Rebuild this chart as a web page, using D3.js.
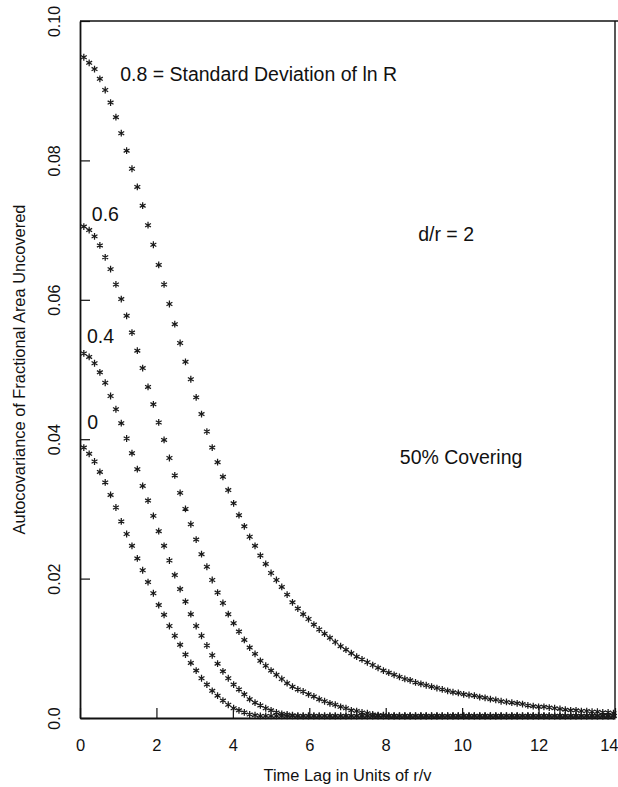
<!DOCTYPE html>
<html>
<head>
<meta charset="utf-8">
<script src="https://cdn.jsdelivr.net/npm/d3@7"></script>
<style>
  body { margin: 0; background: #fff; }
  svg { display: block; background: #fff; font-family: "Liberation Sans", Arial, Helvetica, sans-serif; }
  .axis path, .axis line { stroke: #111; }
  .chart_label { fill: #111; }
  .star { fill: none; stroke: #1a1a1a; stroke-width: 1.25; }
</style>
</head>
<body>
<svg id="chart" width="618" height="787"></svg>
<script>
// time lag in units of r/v (one asterisk per lag)
var lags = [
  0.10, 0.24, 0.38, 0.52, 0.66, 0.80, 0.94, 1.08, 1.22, 1.36,
  1.50, 1.64, 1.78, 1.92, 2.06, 2.20, 2.34, 2.48, 2.62, 2.76,
  2.90, 3.04, 3.18, 3.32, 3.46, 3.60, 3.74, 3.88, 4.02, 4.16,
  4.30, 4.44, 4.58, 4.72, 4.86, 5.00, 5.14, 5.28, 5.42, 5.56,
  5.70, 5.84, 5.98, 6.12, 6.26, 6.40, 6.54, 6.68, 6.82, 6.96,
  7.10, 7.24, 7.38, 7.52, 7.66, 7.80, 7.94, 8.08, 8.22, 8.36,
  8.50, 8.64, 8.78, 8.92, 9.06, 9.20, 9.34, 9.48, 9.62, 9.76,
  9.90, 10.04, 10.18, 10.32, 10.46, 10.60, 10.74, 10.88, 11.02, 11.16,
  11.30, 11.44, 11.58, 11.72, 11.86, 12.00, 12.14, 12.28, 12.42, 12.56,
  12.70, 12.84, 12.98, 13.12, 13.26, 13.40, 13.54, 13.68, 13.82, 13.96
];

// autocovariance, standard deviation of ln R = 0.8
var sd08 = [
  .0948, .0940, .0931, .0917, .0901, .0883, .0862, .0839, .0814, .0788,
  .0762, .0735, .0707, .0679, .0650, .0622, .0594, .0565, .0538, .0511,
  .0486, .0460, .0436, .0411, .0388, .0367, .0346, .0327, .0308, .0291,
  .0275, .0260, .0247, .0233, .0221, .0208, .0198, .0188, .0177, .0166,
  .0157, .0149, .0142, .0134, .0127, .0121, .0115, .0109, .0103, .0098,
  .0093, .0088, .0084, .0080, .0076, .0072, .0068, .0065, .0062, .0059,
  .0056, .0054, .0051, .0049, .0047, .0045, .0043, .0041, .0039, .0037,
  .0036, .0034, .0033, .0032, .0030, .0029, .0027, .0026, .0024, .0023,
  .0022, .0021, .0020, .0018, .0017, .0016, .0016, .0015, .0014, .0013,
  .0012, .0011, .0011, .0010, .0010, .0009, .0009, .0008, .0008, .0007
];

// sd = 0.6
var sd06 = [
  .0705, .0700, .0691, .0678, .0661, .0644, .0622, .0601, .0577, .0553,
  .0527, .0502, .0475, .0450, .0424, .0399, .0373, .0348, .0323, .0300,
  .0278, .0256, .0235, .0217, .0198, .0180, .0165, .0149, .0136, .0124,
  .0112, .0101, .0092, .0082, .0075, .0068, .0062, .0056, .0050, .0045,
  .0041, .0038, .0034, .0031, .0027, .0024, .0021, .0019, .0016, .0014,
  .0011, .0010, .0008, .0007, .0005, .0004, .0004, .0003, .0003, .0003,
  .0003, .0003, .0003, .0003, .0003, .0003, .0003, .0003, .0003, .0003,
  .0003, .0003, .0003, .0003, .0003, .0003, .0003, .0003, .0003, .0003,
  .0003, .0003, .0003, .0003, .0003, .0003, .0003, .0003, .0003, .0003,
  .0003, .0003, .0003, .0003, .0003, .0003, .0003, .0003, .0003, .0003
];

// sd = 0.4
var sd04 = [
  .0523, .0518, .0509, .0496, .0481, .0462, .0443, .0423, .0401, .0380,
  .0357, .0333, .0312, .0290, .0268, .0247, .0226, .0205, .0185, .0167,
  .0149, .0132, .0118, .0104, .0090, .0078, .0067, .0057, .0048, .0041,
  .0034, .0027, .0022, .0018, .0014, .0011, .0008, .0006, .0005, .0004,
  .0003, .0003, .0003, .0003, .0003, .0003, .0003, .0003, .0003, .0003,
  .0003, .0003, .0003, .0003, .0003, .0003, .0003, .0003, .0003, .0003,
  .0003, .0003, .0003, .0003, .0003, .0003, .0003, .0003, .0003, .0003,
  .0003, .0003, .0003, .0003, .0003, .0003, .0003, .0003, .0003, .0003,
  .0003, .0003, .0003, .0003, .0003, .0003, .0003, .0003, .0003, .0003,
  .0003, .0003, .0003, .0003, .0003, .0003, .0003, .0003, .0003, .0003
];

// sd = 0
var sd00 = [
  .0388, .0379, .0368, .0353, .0338, .0320, .0302, .0282, .0264, .0247,
  .0229, .0212, .0195, .0179, .0162, .0148, .0132, .0118, .0105, .0091,
  .0079, .0068, .0057, .0048, .0039, .0032, .0025, .0019, .0014, .0011,
  .0008, .0005, .0004, .0003, .0003, .0003, .0003, .0003, .0003, .0003,
  .0003, .0003, .0003, .0003, .0003, .0003, .0003, .0003, .0003, .0003,
  .0003, .0003, .0003, .0003, .0003, .0003, .0003, .0003, .0003, .0003,
  .0003, .0003, .0003, .0003, .0003, .0003, .0003, .0003, .0003, .0003,
  .0003, .0003, .0003, .0003, .0003, .0003, .0003, .0003, .0003, .0003,
  .0003, .0003, .0003, .0003, .0003, .0003, .0003, .0003, .0003, .0003,
  .0003, .0003, .0003, .0003, .0003, .0003, .0003, .0003, .0003, .0003
];

var xTicks = [0, 2, 4, 6, 8, 10, 12, 14];
var yTicks = [0, 0.02, 0.04, 0.06, 0.08, 0.10];
var yTickLabels = ["0.0", "0.02", "0.04", "0.06", "0.08", "0.10"];

var series = [sd08, sd06, sd04, sd00];

var svg = d3.select("#chart"),
    margin = {top: 21, right: 3, bottom: 69, left: 80},
    width = 618 - margin.left - margin.right,
    height = 787 - margin.top - margin.bottom,
    g = svg.append("g").attr("transform", "translate(" + margin.left + "," + margin.top + ")");

var x = d3.scaleLinear().domain([0, 14]).range([0, width]);
var y = d3.scaleLinear().domain([0, 0.10]).range([height, 0]);

// axes first, markers on top
g.append("g")
    .attr("class", "axis")
    .attr("transform", "translate(0," + height + ")")
    .call(xAxis);

g.append("g")
    .attr("class", "axis")
    .call(yAxis);

// top and right frame
g.append("line")
    .attr("x1", 0).attr("x2", width + margin.right)
    .attr("y1", 0).attr("y2", 0)
    .attr("stroke", "#111").attr("stroke-width", 1.4);
g.append("line")
    .attr("x1", width).attr("x2", width)
    .attr("y1", 0).attr("y2", height)
    .attr("stroke", "#111").attr("stroke-width", 1.4);

var star = d3.symbol().type(d3.symbolAsterisk).size(32);

series.forEach(function(values, s) {
  g.selectAll(".star-" + s)
    .data(values)
    .enter().append("path")
      .attr("class", "star star-" + s)
      .attr("transform", function(d, i) { return "translate(" + x(lags[i]) + "," + y(d) + ")"; })
      .attr("d", star);
});

// curve labels and notes
function note(text, tx, ty) {
  g.append("text")
    .attr("class", "chart_label")
    .attr("x", x(tx))
    .attr("y", y(ty))
    .attr("font-size", 19.5)
    .text(text);
}
note("0.8 = Standard Deviation of ln R", 1.05, 0.0914);
note("0.6", 0.31, 0.0713);
note("0.4", 0.18, 0.0538);
note("0", 0.19, 0.0414);
note("d/r = 2", 8.85, 0.0684);
note("50% Covering", 8.37, 0.0364);

// axis titles
svg.append("text")
    .attr("class", "chart_label")
    .attr("x", margin.left + width / 2)
    .attr("y", 781)
    .attr("text-anchor", "middle")
    .attr("font-size", 16.4)
    .text("Time Lag in Units of r/v");

svg.append("text")
    .attr("class", "chart_label")
    .attr("transform", "translate(25," + (margin.top + height * 0.5) + ") rotate(-90)")
    .attr("text-anchor", "middle")
    .attr("font-size", 16.4)
    .text("Autocovariance of Fractional Area Uncovered");

function xAxis(g) {
  g.call(
    d3.axisBottom(x)
      .tickValues(xTicks)
      .tickFormat(d3.format("d"))
      .tickSizeInner(-10)
      .tickSizeOuter(0)
  );
  g.select(".domain").attr("stroke-width", 1.8);
  g.selectAll(".tick line").attr("stroke-width", 1.2);
  g.selectAll(".tick text")
    .attr("class", "chart_label")
    .attr("y", 33)
    .attr("dy", 0)
    .attr("font-size", 16.5)
    .attr("font-family", null);
  // last label sits at the page edge; keep it inside
  g.selectAll(".tick:last-of-type text")
    .attr("text-anchor", "end")
    .attr("x", 3);
}

function yAxis(g) {
  g.call(
    d3.axisLeft(y)
      .tickValues(yTicks)
      .tickFormat(function(d, i) { return yTickLabels[i]; })
      .tickSizeInner(-10)
      .tickSizeOuter(0)
  );
  g.select(".domain").attr("stroke-width", 1.8);
  g.selectAll(".tick line").attr("stroke-width", 1.2);
  g.selectAll(".tick text")
    .attr("class", "chart_label")
    .attr("x", 0)
    .attr("dy", 0)
    .attr("transform", "translate(-20,0) rotate(-90)")
    .attr("text-anchor", "middle")
    .attr("font-size", 16)
    .attr("font-family", null);
}
</script>
</body>
</html>
